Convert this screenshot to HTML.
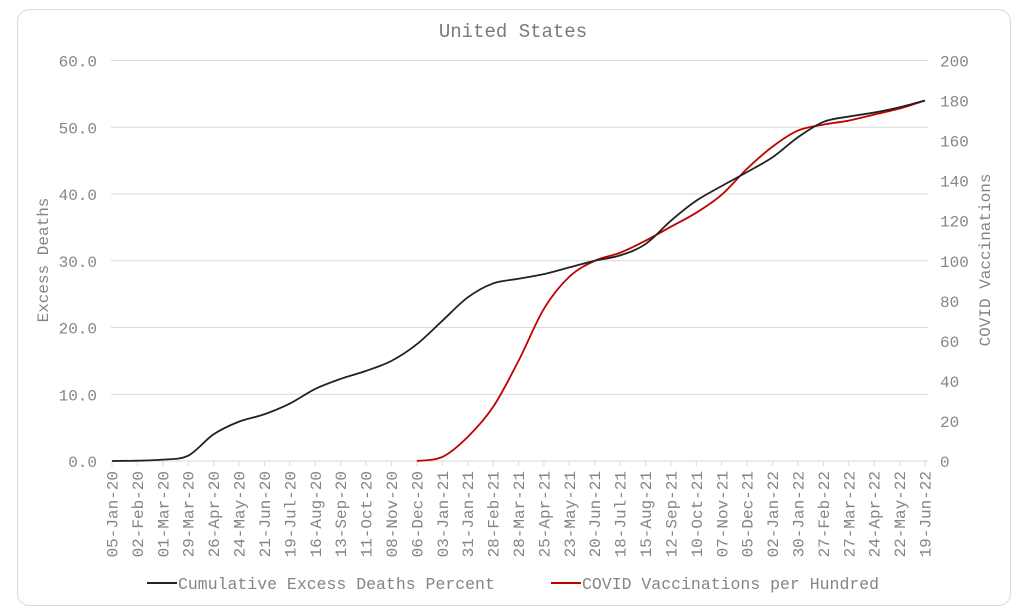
<!DOCTYPE html>
<html><head><meta charset="utf-8"><style>
body{margin:0;background:#fff;}
svg{display:block;font-family:"Liberation Mono",monospace;}
</style></head><body>
<svg id="chart" width="1024" height="614">
<rect x="17.5" y="9.5" width="993" height="596" rx="12" fill="#fff" stroke="#d9d9d9"/>
<text x="513" y="37" text-anchor="middle" font-size="19" fill="#7a7a7a">United States</text>
<text transform="translate(48,260) rotate(-90)" text-anchor="middle" font-size="16" fill="#858585">Excess Deaths</text>
<text transform="translate(990,260) rotate(-90)" text-anchor="middle" font-size="16" fill="#858585">COVID Vaccinations</text>
<g id="grid"></g><g id="axes"></g><g id="series"></g>
<g>
<line x1="147" y1="583" x2="177" y2="583" stroke="#222" stroke-width="2"/>
<text x="178" y="589" font-size="16.5" fill="#858585">Cumulative Excess Deaths Percent</text>
<line x1="551" y1="583" x2="581" y2="583" stroke="#c00000" stroke-width="2"/>
<text x="582" y="589" font-size="16.5" fill="#858585">COVID Vaccinations per Hundred</text>
</g>
</svg>
<script>
const categories=["05-Jan-20","02-Feb-20","01-Mar-20","29-Mar-20","26-Apr-20","24-May-20","21-Jun-20","19-Jul-20","16-Aug-20","13-Sep-20","11-Oct-20","08-Nov-20","06-Dec-20","03-Jan-21","31-Jan-21","28-Feb-21","28-Mar-21","25-Apr-21","23-May-21","20-Jun-21","18-Jul-21","15-Aug-21","12-Sep-21","10-Oct-21","07-Nov-21","05-Dec-21","02-Jan-22","30-Jan-22","27-Feb-22","27-Mar-22","24-Apr-22","22-May-22","19-Jun-22"];
const deaths=[0,0.05,0.2,0.8,4.0,5.9,7.0,8.6,10.8,12.3,13.5,15.0,17.5,21.0,24.5,26.6,27.3,28.0,29.0,30.0,30.8,32.5,36.0,39.0,41.2,43.3,45.5,48.5,50.8,51.6,52.2,53.0,54.0];
const vaccinations=[null,null,null,null,null,null,null,null,null,null,null,null,0,2,12,27,50,76,92,100,104,110,117,124,133,146,157,165,168,170,173,176,180];
const leftTicks=[0,10,20,30,40,50,60];
const rightTicks=[0,20,40,60,80,100,120,140,160,180,200];
const NS="http://www.w3.org/2000/svg";
const X0=112,X1=925,YB=461,YT=60.5,PL=111,PR=928;
const xs=i=>X0+(X1-X0)*i/(categories.length-1);
const yl=v=>YB-(YB-YT)*v/60;
const yr=v=>YB-(YB-YT)*v/200;
function mk(tag,attrs,parent){const e=document.createElementNS(NS,tag);for(const k in attrs)e.setAttribute(k,attrs[k]);document.getElementById(parent).appendChild(e);return e;}
leftTicks.forEach(v=>{
 const l=mk('line',{x1:PL,x2:PR,y1:yl(v),y2:yl(v),stroke:'#d9d9d9','stroke-width':1},'grid');
 
 
 const t=mk('text',{x:97,y:yl(v)+6,'text-anchor':'end','font-size':16,fill:'#858585'},'axes');
 t.textContent=v.toFixed(1);
 
 
});
rightTicks.forEach(v=>{
 const t=mk('text',{x:940,y:yr(v)+6,'font-size':16,fill:'#858585'},'axes');
 t.textContent=v;
 
 
});
categories.forEach((c,i)=>{
 const x=xs(i);
 const tk=mk('line',{x1:x,x2:x,y1:YB,y2:YB+5,stroke:'#d9d9d9'},'axes');
 
 
 const t=mk('text',{transform:`translate(${x+5.5},471) rotate(-90)`,'text-anchor':'end','font-size':16,fill:'#858585'},'axes');
 t.textContent=c;
 
 
});
function path(vals,yf){
 const pts=[];vals.forEach((v,i)=>{if(v!==null)pts.push([xs(i),yf(v)]);});
 let d=`M${pts[0][0]},${pts[0][1]}`;
 for(let i=0;i<pts.length-1;i++){
  const p0=pts[Math.max(i-1,0)],p1=pts[i],p2=pts[i+1],p3=pts[Math.min(i+2,pts.length-1)];
  d+=` C${p1[0]+(p2[0]-p0[0])/6},${p1[1]+(p2[1]-p0[1])/6} ${p2[0]-(p3[0]-p1[0])/6},${p2[1]-(p3[1]-p1[1])/6} ${p2[0]},${p2[1]}`;
 }
 return d;
}
const pv=mk('path',{d:path(vaccinations,yr),fill:'none',stroke:'#c00000','stroke-width':1.8},'series');


const pd=mk('path',{d:path(deaths,yl),fill:'none',stroke:'#222','stroke-width':1.8},'series');


</script>
</body></html>
